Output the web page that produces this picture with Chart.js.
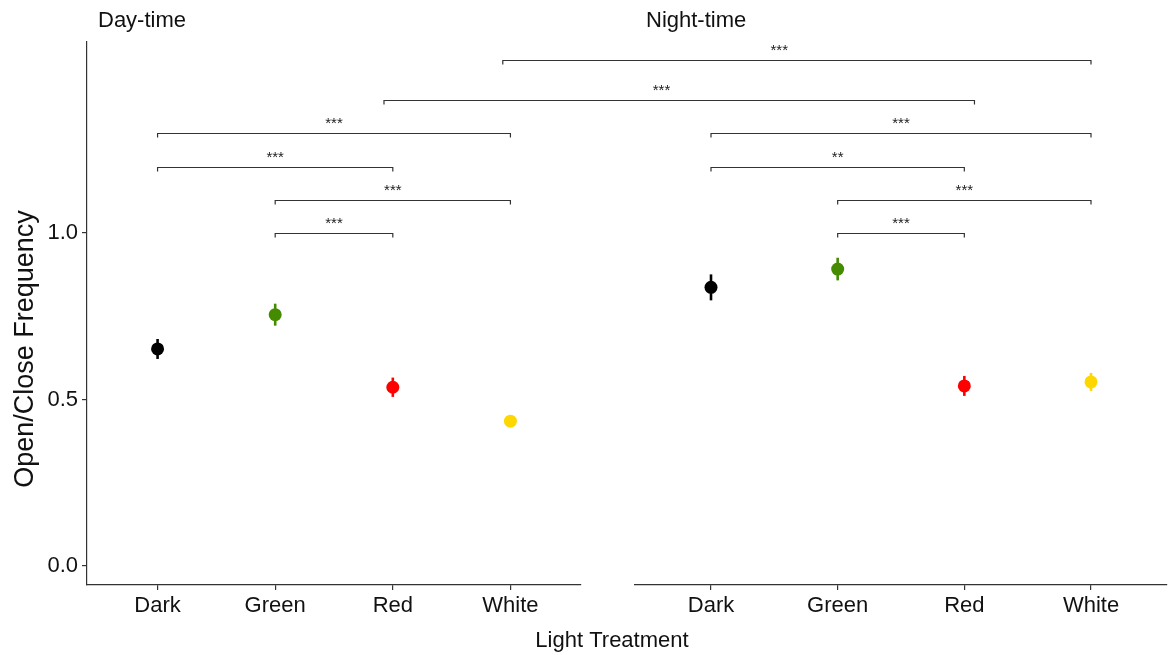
<!DOCTYPE html>
<html>
<head>
<meta charset="utf-8">
<script src="https://cdn.jsdelivr.net/npm/chart.js@4"></script>
<style>
  body { margin: 0; background: #fff; }
  #wrap { position: relative; width: 1169px; height: 655px; }
  #wrap canvas { position: absolute; left: 0; top: 0; }
</style>
</head>
<body>
<div id="wrap">
  <canvas id="dayChart" width="1169" height="655"></canvas>
  <canvas id="nightChart" width="1169" height="655"></canvas>
</div>
<script>
var treatments = ["Dark", "Green", "Red", "White"];
var pointColors = ["#000000", "#458B00", "#FF0000", "#FFD700"];

var dayMeans = [0.652, 0.755, 0.537, 0.435];
var daySE = [0.030, 0.033, 0.029, 0.015];
var nightMeans = [0.837, 0.892, 0.541, 0.553];
var nightSE = [0.039, 0.034, 0.030, 0.027];

var yTicks = [0, 0.5, 1.0];

// pairwise comparisons inside each panel (indices into treatments)
var dayBrackets = [
  { from: 0, to: 3, y: 1.3, label: "***" },
  { from: 0, to: 2, y: 1.2, label: "***" },
  { from: 1, to: 3, y: 1.1, label: "***" },
  { from: 1, to: 2, y: 1.0, label: "***" }
];
var nightBrackets = [
  { from: 0, to: 3, y: 1.3, label: "***" },
  { from: 0, to: 2, y: 1.2, label: "**" },
  { from: 1, to: 3, y: 1.1, label: "***" },
  { from: 1, to: 2, y: 1.0, label: "***" }
];
// day vs night comparisons (from = day axis, to = night axis)
var crossBrackets = [
  { from: 1.925, to: 2.08, y: 1.4, label: "***" },
  { from: 2.935, to: 3.0, y: 1.52, label: "***" }
];

var FONT = "'Liberation Sans', Arial, sans-serif";
var INK = "#333333";
var dayChart, nightChart;

function drawBracket(ctx, x1, x2, y, label, frac) {
  ctx.save();
  ctx.strokeStyle = INK;
  ctx.lineWidth = 1.2;
  ctx.beginPath();
  ctx.moveTo(x1, y + 4);
  ctx.lineTo(x1, y);
  ctx.lineTo(x2, y);
  ctx.lineTo(x2, y + 4);
  ctx.stroke();
  ctx.fillStyle = "#222";
  ctx.font = "15px " + FONT;
  ctx.textAlign = "center";
  ctx.textBaseline = "alphabetic";
  ctx.fillText(label, x1 + (x2 - x1) * frac, y - 6);
  ctx.restore();
}

function panelPlugin(means, se, brackets, strip) {
  return {
    id: "panelExtras",
    beforeDatasetsDraw: function (chart) {
      var ctx = chart.ctx, xs = chart.scales.x, ys = chart.scales.y;
      ctx.save();
      ctx.lineWidth = 2.6;
      for (var i = 0; i < means.length; i++) {
        var x = xs.getPixelForValue(i);
        ctx.strokeStyle = pointColors[i];
        ctx.beginPath();
        ctx.moveTo(x, ys.getPixelForValue(means[i] - se[i]));
        ctx.lineTo(x, ys.getPixelForValue(means[i] + se[i]));
        ctx.stroke();
      }
      ctx.restore();
    },
    afterDatasetsDraw: function (chart) {
      var xs = chart.scales.x, ys = chart.scales.y;
      brackets.forEach(function (b) {
        drawBracket(chart.ctx, xs.getPixelForValue(b.from), xs.getPixelForValue(b.to),
          Math.round(ys.getPixelForValue(b.y)) + 0.5, b.label, 0.5);
      });
      var ctx = chart.ctx;
      ctx.save();
      ctx.fillStyle = "#111";
      ctx.font = "22px " + FONT;
      ctx.textAlign = "left";
      ctx.textBaseline = "middle";
      ctx.fillText(strip, chart.chartArea.left + 11, 21);
      ctx.restore();
    }
  };
}

// y title for the day panel
var yTitlePlugin = {
  id: "yTitle",
  afterDraw: function (chart) {
    var ctx = chart.ctx;
    ctx.save();
    ctx.translate(26, 349);
    ctx.rotate(-Math.PI / 2);
    ctx.fillStyle = "#111";
    ctx.font = "27px " + FONT;
    ctx.textAlign = "center";
    ctx.textBaseline = "middle";
    ctx.fillText("Open/Close Frequency", 0, 0);
    ctx.restore();
  }
};

var crossPlugin = {
  id: "crossExtras",
  afterDatasetsDraw: function (chart) {
    var ys = chart.scales.y;
    crossBrackets.forEach(function (b) {
      drawBracket(chart.ctx, dayChart.scales.x.getPixelForValue(b.from),
        chart.scales.x.getPixelForValue(b.to),
        Math.round(ys.getPixelForValue(b.y)) + 0.5, b.label, 0.47);
    });
    var ctx = chart.ctx;
    ctx.save();
    ctx.fillStyle = "#111";
    ctx.font = "22px " + FONT;
    ctx.textAlign = "center";
    ctx.textBaseline = "middle";
    ctx.fillText("Light Treatment", (dayChart.chartArea.left + chart.chartArea.right) / 2 - 15, 641);
    ctx.restore();
  }
};

function makePanel(id, means, se, brackets, strip, showY, padding, extra) {
  var plugins = [panelPlugin(means, se, brackets, strip)];
  if (extra) plugins.push(extra);
  return new Chart(document.getElementById(id).getContext("2d"), {
    type: "scatter",
    data: {
      datasets: [{
        data: means.map(function (m, i) { return { x: i, y: m }; }),
        pointBackgroundColor: pointColors,
        pointBorderWidth: 0,
        pointRadius: 6.5,
        pointHoverRadius: 6.5
      }]
    },
    options: {
      responsive: false,
      animation: false,
      events: [],
      layout: { padding: padding, autoPadding: false },
      plugins: { legend: { display: false }, tooltip: { enabled: false } },
      scales: {
        x: {
          type: "linear",
          min: -0.6,
          max: 3.6,
          afterBuildTicks: function (s) {
            s.ticks = treatments.map(function (t, i) { return { value: i }; });
          },
          afterFit: function (s) { s.height = 70; s.paddingLeft = 0; s.paddingRight = 0; },
          ticks: {
            autoSkip: false,
            maxRotation: 0,
            padding: 3,
            color: "#111",
            font: { family: FONT, size: 22 },
            callback: function (v) { return treatments[v]; }
          },
          grid: { drawOnChartArea: false, tickLength: 5, color: INK, lineWidth: 1.2 },
          border: { display: true, color: INK, width: 1.2 }
        },
        y: {
          display: showY,
          min: -0.057,
          max: 1.574,
          afterBuildTicks: function (s) {
            s.ticks = yTicks.map(function (v) { return { value: v }; });
          },
          afterFit: function (s) { s.width = showY ? 87 : 0; },
          ticks: {
            padding: 4,
            color: "#111",
            font: { family: FONT, size: 22 },
            callback: function (v) { return v.toFixed(1); }
          },
          grid: { drawOnChartArea: false, tickLength: 5, color: INK, lineWidth: 1.2 },
          border: { display: true, color: INK, width: 1.2 }
        }
      }
    },
    plugins: plugins
  });
}

dayChart = makePanel("dayChart", dayMeans, daySE, dayBrackets, "Day-time", true,
  { left: 0, right: 588, top: 42, bottom: 0 }, yTitlePlugin);
nightChart = makePanel("nightChart", nightMeans, nightSE, nightBrackets, "Night-time", false,
  { left: 635, right: 2, top: 42, bottom: 0 }, crossPlugin);
</script>
</body>
</html>
